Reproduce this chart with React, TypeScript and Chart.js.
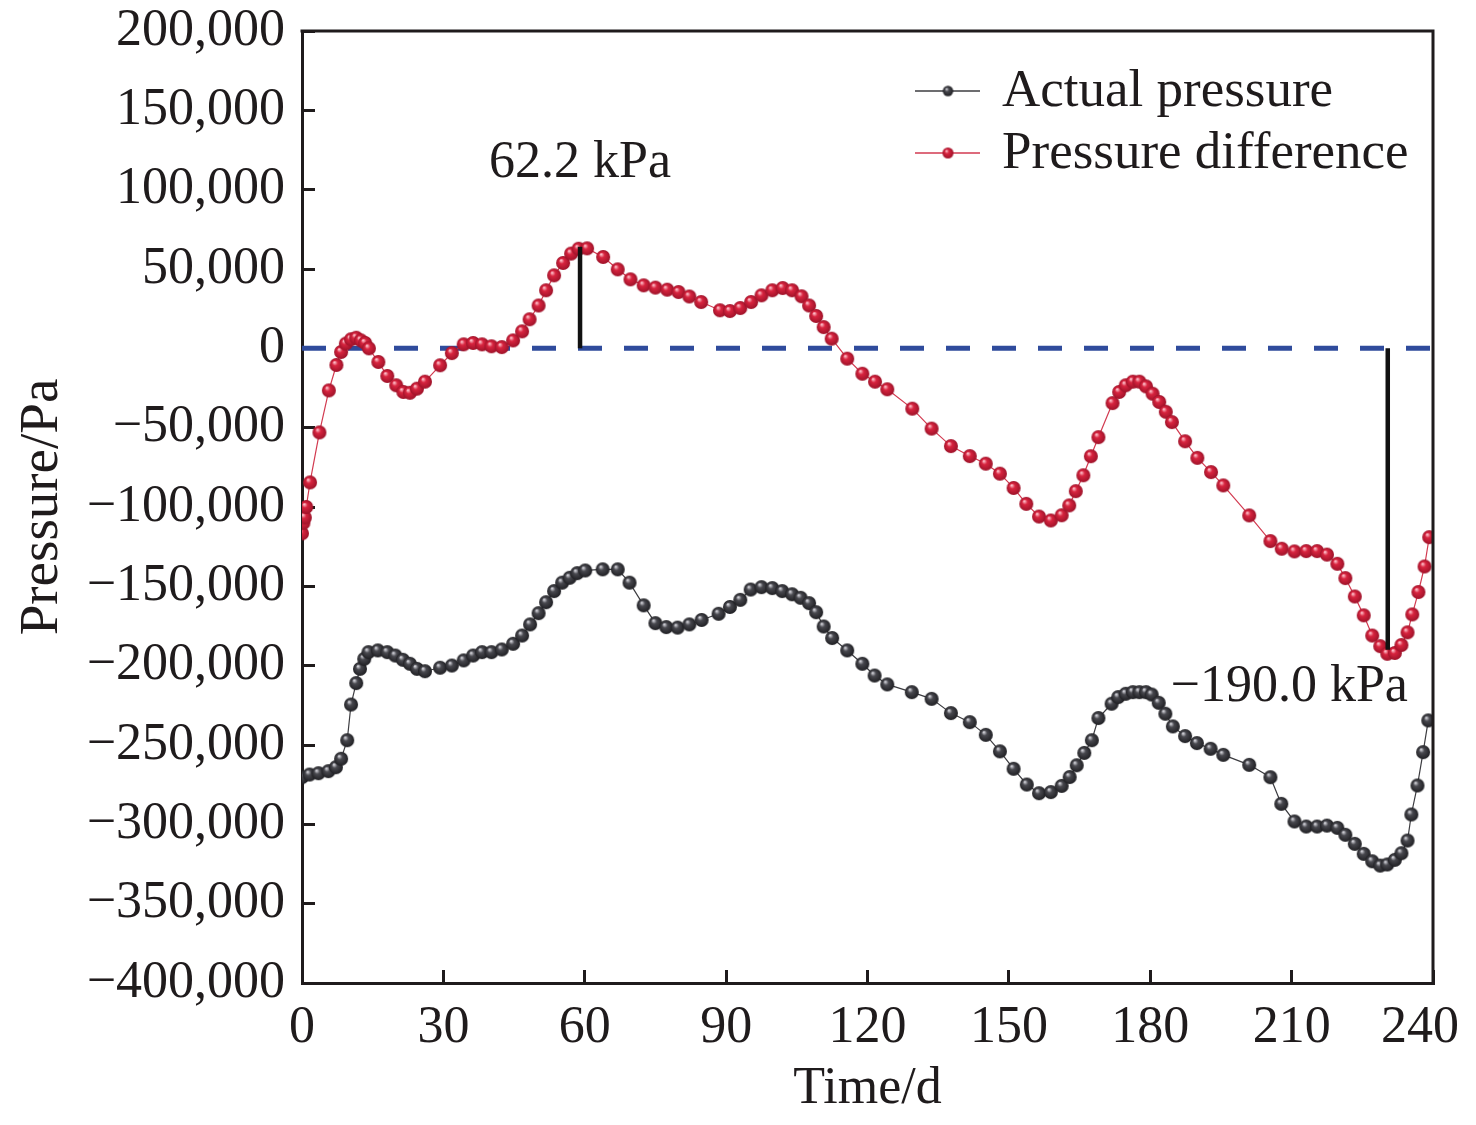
import { useEffect, useRef } from 'react';
import { Chart, registerables } from 'chart.js';

Chart.register(...registerables);

// pressure difference, days and kPa
const DIFF_DAYS = [
  0, 0.3, 0.6, 0.9, 1.7, 3.7, 5.7, 7.3, 8.3, 9.3, 10.4, 11.5, 12.5, 13.4, 14.2, 16.2, 18.1, 20, 21.5, 22.9,
  24.4, 26.1, 29.3, 31.8, 34.3, 36.3, 38.2, 40.2, 42.4, 44.8, 46.7, 48.3, 50.2, 51.8, 53.5, 55.4, 57.1, 58.7,
  60.5, 63.9, 67, 69.7, 72.5, 75, 77.5, 79.9, 82.2, 84.7, 88.7, 90.8, 93, 95.3, 97.5, 99.8, 102, 104, 106,
  107.6, 109.1, 110.7, 112.4, 115.7, 118.9, 121.6, 124.2, 129.5, 133.6, 137.7, 141.7, 145.1, 148.1, 151,
  153.7, 156.4, 158.9, 161.2, 162.8, 164.2, 165.8, 167.4, 169, 172, 173.4, 174.8, 176.3, 177.7, 179.1, 180.5,
  181.9, 183.3, 184.6, 187.4, 190, 192.9, 195.5, 201, 205.5, 207.9, 210.6, 213.1, 215.4, 217.5, 219.7, 221.4,
  223.4, 225.3, 227.1, 228.8, 230.3, 231.9, 233.3, 234.6, 235.6, 236.9, 238.2, 239.2,
];
const DIFF_KPA = [
  -116.6, -110, -106.6, -100, -84.5, -53, -26.5, -10.5, -2.3, 3, 5.7, 6.7, 5, 3.4, 0, -8.6, -17.4, -23.3, -27.5, -28,
  -25.4, -21, -10.7, -3, 2.5, 3.4, 2.5, 1.3, 0.8, 5, 10.7, 18.3, 27, 36.6, 46, 53.8, 59.7, 62.8,
  63, 57.6, 49.8, 43.5, 39.7, 38.3, 37, 35.5, 32.7, 29.2, 24, 23.5, 25.4, 29.2, 33.4, 36.6, 38, 36.6, 32.8,
  27, 20.4, 13.4, 6.1, -6.5, -16, -21, -25.8, -38, -50.6, -61.6, -67.9, -72.7, -79, -88,
  -98, -106, -108.5, -105.2, -99, -90, -80, -68, -56, -34.5, -27.5, -23.3, -21, -21, -24, -28.6,
  -33.8, -40, -46.5, -58.6, -69, -78, -86.4, -105.3, -121.5, -126.3, -128, -127.8, -127.8, -130, -135.8, -144.8,
  -156.4, -168.3, -181, -187.7, -192.5, -192, -187, -179, -167.7, -153.6, -137.5, -119,
];

// actual pressure, days and kPa
const ACTUAL_DAYS = [
  0, 1.6, 3.5, 5.6, 7.2, 8.3, 9.6, 10.4, 11.5, 12.3, 13.2, 14.1, 16.1, 18.1, 19.8, 21.4, 22.9, 24.4, 26.1, 29.3,
  31.8, 34.3, 36.3, 38.2, 40.2, 42.4, 44.8, 46.7, 48.4, 50.2, 51.8, 53.5, 55.2, 56.8, 58.4, 60.1, 63.8, 67,
  69.5, 72.5, 75, 77.3, 79.7, 82.2, 84.8, 88.4, 90.8, 93, 95.2, 97.5, 99.8, 101.9, 104, 105.8, 107.6, 109.1,
  110.7, 112.5, 115.7, 118.9, 121.5, 124.2, 129.4, 133.6, 137.7, 141.7, 145.1, 148.1, 151, 153.8, 156.4,
  158.9, 161.2, 162.9, 164.4, 166, 167.6, 169, 171.8, 173.2, 174.8, 176.3, 177.7, 179.1, 180.3, 181.8, 183.2,
  184.8, 187.4, 189.9, 192.8, 195.5, 201, 205.5, 207.8, 210.6, 213.1, 215.4, 217.5, 219.7, 221.4, 223.4,
  225.3, 227.1, 228.8, 230.3, 231.9, 233.3, 234.6, 235.4, 236.7, 237.9, 239,
];
const ACTUAL_KPA = [
  -270.3, -268.6, -267.8, -266.5, -264, -258.7, -247, -224.5, -211, -202, -195.7, -191.5, -190.4, -191.5, -193.6, -196.3, -198.8, -202, -203.5, -201.3,
  -199.9, -196.7, -193.6, -191.5, -191.5, -189.8, -186.2, -181, -174, -166.9, -160, -153, -147.7, -144.6, -141.7, -140, -139.3, -139.3,
  -147.7, -162, -173.2, -175.7, -176, -174, -171.2, -167.3, -163, -158.5, -152, -150.5, -151.1, -153, -155, -157.2, -160.6, -166.3,
  -175.3, -182.6, -190.4, -198.8, -206.2, -211.8, -216.7, -220.9, -229.9, -235.6, -243.6, -254, -265, -274.9, -280.4,
  -279.7, -275.8, -270.2, -262.8, -255, -247, -233, -224, -219.8, -217.7, -216.7, -216.7, -216.7, -218.2, -223.4, -230.3,
  -238.3, -244.4, -248.8, -252.4, -256.2, -262.5, -270.3, -287.1, -298.2, -301.4, -301.4, -300.8, -302.2, -306.6, -312.3,
  -318.6, -323.3, -326, -325.3, -322.4, -318.2, -310.2, -293.8, -275.5, -254.5, -234.5,
];

const X_TICKS = [0, 30, 60, 90, 120, 150, 180, 210, 240];
const Y_TICKS = [-400000, -350000, -300000, -250000, -200000, -150000, -100000, -50000, 0, 50000, 100000, 150000, 200000];

// extreme markers: day, pressure (Pa) at the end of the mark, label
const PEAK_MARK = { day: 59, value: 64000, label: '62.2 kPa', labelDay: 59, labelValue: 108000 };
const LOW_MARK = { day: 230.4, value: -190000, label: '\u2212190.0 kPa', labelDay: 209.5, labelValue: -222000 };

const FONT = '"Liberation Serif", "Times New Roman", serif';
const INK = '#1f1b1c';

function makeBall(r: number, light: string, mid: string, dark: string) {
  const size = Math.ceil(r * 2 + 2);
  const c = document.createElement('canvas');
  c.width = size;
  c.height = size;
  const g = c.getContext('2d')!;
  const cx = size / 2;
  const cy = size / 2;
  const grad = g.createRadialGradient(cx - r * 0.3, cy - r * 0.4, r * 0.05, cx, cy, r);
  grad.addColorStop(0, light);
  grad.addColorStop(0.35, mid);
  grad.addColorStop(1, dark);
  g.fillStyle = grad;
  g.beginPath();
  g.arc(cx, cy, r, 0, Math.PI * 2);
  g.fill();
  return c;
}

const fmtPa = (v: number) => (v < 0 ? '\u2212' : '') + Math.abs(v).toLocaleString('en-US');

export default function App() {
  const canvasRef = useRef<HTMLCanvasElement>(null);

  useEffect(() => {
    if (!canvasRef.current) return;

    const redBall = makeBall(7, '#ffc7d0', '#d8243f', '#9e1229');
    const grayBall = makeBall(7, '#d9d9e0', '#48484e', '#1f1f23');
    const redBallSmall = makeBall(5.5, '#ffc7d0', '#d8243f', '#9e1229');
    const grayBallSmall = makeBall(5.2, '#d9d9e0', '#48484e', '#1f1f23');

    const overlay = {
      id: 'overlay',
      afterDraw(chart: Chart) {
        const { ctx, chartArea } = chart;
        const xs = chart.scales.x;
        const ys = chart.scales.y;
        ctx.save();

        // top and right frame
        ctx.strokeStyle = INK;
        ctx.lineWidth = 3;
        ctx.beginPath();
        ctx.moveTo(chartArea.left - 1.5, chartArea.top);
        ctx.lineTo(chartArea.right, chartArea.top);
        ctx.lineTo(chartArea.right, chartArea.bottom + 1.5);
        ctx.stroke();

        // value labels
        ctx.fillStyle = INK;
        ctx.font = `52px ${FONT}`;
        ctx.textAlign = 'center';
        ctx.textBaseline = 'alphabetic';
        for (const m of [PEAK_MARK, LOW_MARK]) {
          ctx.fillText(m.label, xs.getPixelForValue(m.labelDay), ys.getPixelForValue(m.labelValue));
        }

        // legend
        const rows = [
          { text: 'Actual pressure', color: '#3c3c40', ball: grayBallSmall },
          { text: 'Pressure difference', color: '#d23a50', ball: redBallSmall },
        ];
        ctx.textAlign = 'left';
        ctx.font = `53px ${FONT}`;
        rows.forEach((row, i) => {
          const base = chartArea.top + 75 + i * 62;
          const my = base - 15;
          ctx.strokeStyle = row.color;
          ctx.lineWidth = 1.3;
          ctx.beginPath();
          ctx.moveTo(chartArea.right - 518, my);
          ctx.lineTo(chartArea.right - 453, my);
          ctx.stroke();
          ctx.drawImage(row.ball, chartArea.right - 485 - row.ball.width / 2, my - row.ball.height / 2);
          ctx.fillStyle = INK;
          ctx.fillText(row.text, chartArea.right - 431, base);
        });
        ctx.restore();
      },
    };

    const chart = new Chart(canvasRef.current, {
      type: 'line',
      data: {
        datasets: [
          {
            label: 'peak',
            data: [{ x: PEAK_MARK.day, y: 0 }, { x: PEAK_MARK.day, y: PEAK_MARK.value }],
            borderColor: '#111',
            borderWidth: 4.5,
            pointRadius: 0,
          },
          {
            label: 'low',
            data: [{ x: LOW_MARK.day, y: 0 }, { x: LOW_MARK.day, y: LOW_MARK.value }],
            borderColor: '#111',
            borderWidth: 4.5,
            pointRadius: 0,
          },
          {
            label: 'Pressure difference',
            data: DIFF_DAYS.map((d, i) => ({ x: d, y: DIFF_KPA[i] * 1000 })),
            borderColor: '#d23a50',
            borderWidth: 1.2,
            pointStyle: redBall,
            pointRadius: 7,
            tension: 0,
          },
          {
            label: 'Actual pressure',
            data: ACTUAL_DAYS.map((d, i) => ({ x: d, y: ACTUAL_KPA[i] * 1000 })),
            borderColor: '#3c3c40',
            borderWidth: 1.2,
            pointStyle: grayBall,
            pointRadius: 7,
            tension: 0,
          },
          {
            label: 'zero',
            data: [{ x: 0, y: 0 }, { x: 240, y: 0 }],
            borderColor: '#2f4b9c',
            borderWidth: 5,
            borderDash: [24, 22],
            pointRadius: 0,
          },
        ],
      },
      options: {
        animation: false,
        responsive: true,
        maintainAspectRatio: false,
        layout: { padding: { left: 0, top: 31, right: 43, bottom: 0 } },
        plugins: { legend: { display: false }, tooltip: { enabled: false } },
        scales: {
          x: {
            type: 'linear',
            min: 0,
            max: 240,
            afterBuildTicks: (s) => {
              s.ticks = X_TICKS.map((v) => ({ value: v }));
            },
            afterFit: (s) => {
              s.height = 142;
              s.paddingLeft = 0;
              s.paddingRight = 0;
            },
            ticks: {
              color: INK,
              font: { family: FONT, size: 52 },
              padding: 27,
              maxRotation: 0,
              // last label sits a little inside the frame, as in the figure
              callback: (v) => (Number(v) === 240 ? '240\u2002' : String(v)),
            },
            grid: { drawOnChartArea: false, tickLength: -13, tickWidth: 3, tickColor: INK },
            border: { color: INK, width: 3 },
            title: { display: true, text: 'Time/d', color: INK, font: { family: FONT, size: 52 }, padding: { top: 0, bottom: 4 } },
          },
          y: {
            type: 'linear',
            min: -400000,
            max: 200000,
            afterBuildTicks: (s) => {
              s.ticks = Y_TICKS.map((v) => ({ value: v }));
            },
            afterFit: (s) => {
              s.width = 302;
              s.paddingTop = 0;
              s.paddingBottom = 0;
            },
            ticks: { color: INK, font: { family: FONT, size: 52 }, padding: 30, callback: (v) => fmtPa(Number(v)) },
            grid: { drawOnChartArea: false, tickLength: -13, tickWidth: 3, tickColor: INK },
            border: { color: INK, width: 3 },
            title: { display: true, text: 'Pressure/Pa', color: INK, font: { family: FONT, size: 55 }, padding: { top: 10, bottom: 0 } },
          },
        },
      },
      plugins: [overlay],
    });

    return () => chart.destroy();
  }, []);

  return (
    <div style={{ position: 'absolute', left: 0, top: 0, width: 1476, height: 1125, background: '#fff' }}>
      <canvas ref={canvasRef} />
    </div>
  );
}
